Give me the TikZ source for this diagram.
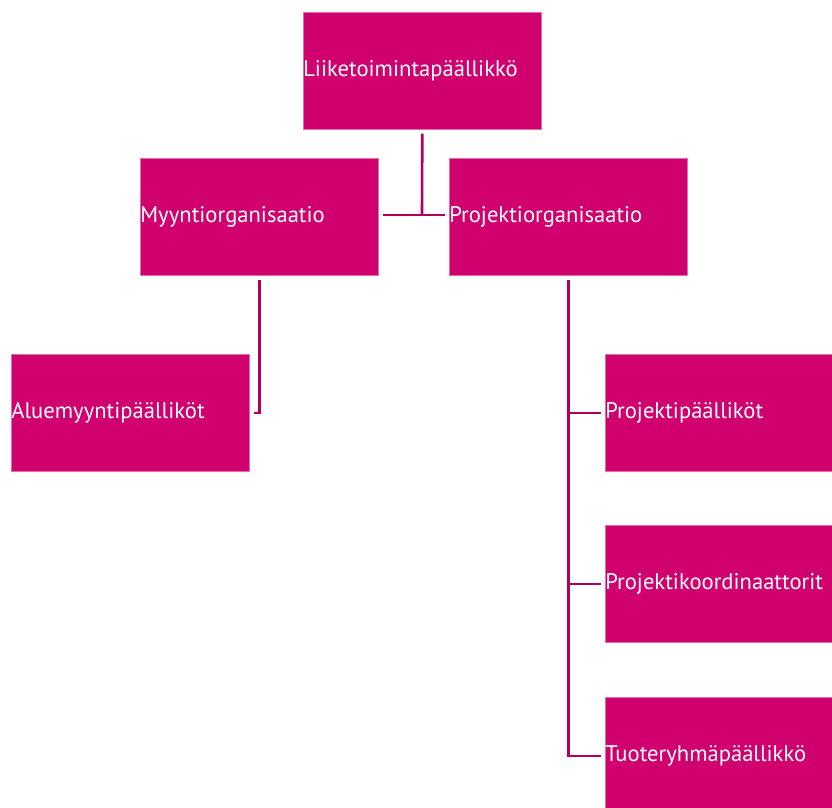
\documentclass[tikz,border=0pt]{standalone}
\usepackage{fontspec}
\setmainfont{PT Sans}
\definecolor{boxfill}{HTML}{D0006F}
\definecolor{boxedge}{HTML}{E070A8}
\definecolor{linecol}{HTML}{B0005E}
\tikzset{
  orgbox/.style={anchor=north west, fill=boxfill, draw=boxedge, line width=0.6pt,
    text=white, minimum width=238pt, minimum height=117pt, text width=238pt,
    inner xsep=0pt, inner ysep=0pt, align=left, font=\fontsize{22.6pt}{26pt}\selectfont},
  conn/.style={draw=linecol, line width=2.6pt}
}
\begin{document}
\begin{tikzpicture}[x=1pt,y=-1pt]
\useasboundingbox (0,0) rectangle (832,807);
\begin{scope}
\clip (0,0) rectangle (832,807);
\node[orgbox] (top) at (303,12) {Liiketoimintapäällikkö};
\node[orgbox] (myy) at (140,158) {Myyntiorganisaatio};
\node[orgbox] (proj) at (449,158) {Projektiorganisaatio};
\node[orgbox] (alue) at (11,354) {Aluemyyntipäälliköt};
\node[orgbox] (pp) at (605,354) {Projektipäälliköt};
\node[orgbox] (pk) at (605,525) {Projektikoordinaattorit};
\node[orgbox] (tr) at (605,697) {Tuoteryhmäpäällikkö};
\coordinate (j1) at (422,215);
\draw[conn] ([yshift=-4pt]top.south) -- (j1);
\draw[conn] ([xshift=4pt]myy.east |- j1) -- ([xshift=-4pt]proj.west |- j1);
\draw[conn] ([yshift=-4pt]myy.south) |- ([xshift=4pt]alue.east);
\draw[conn] ([yshift=-4pt]proj.south) |- ([xshift=-4pt]tr.west);
\draw[conn] (proj.south |- pp.west) -- ([xshift=-4pt]pp.west);
\draw[conn] (proj.south |- pk.west) -- ([xshift=-4pt]pk.west);
\end{scope}
\end{tikzpicture}
\end{document}
